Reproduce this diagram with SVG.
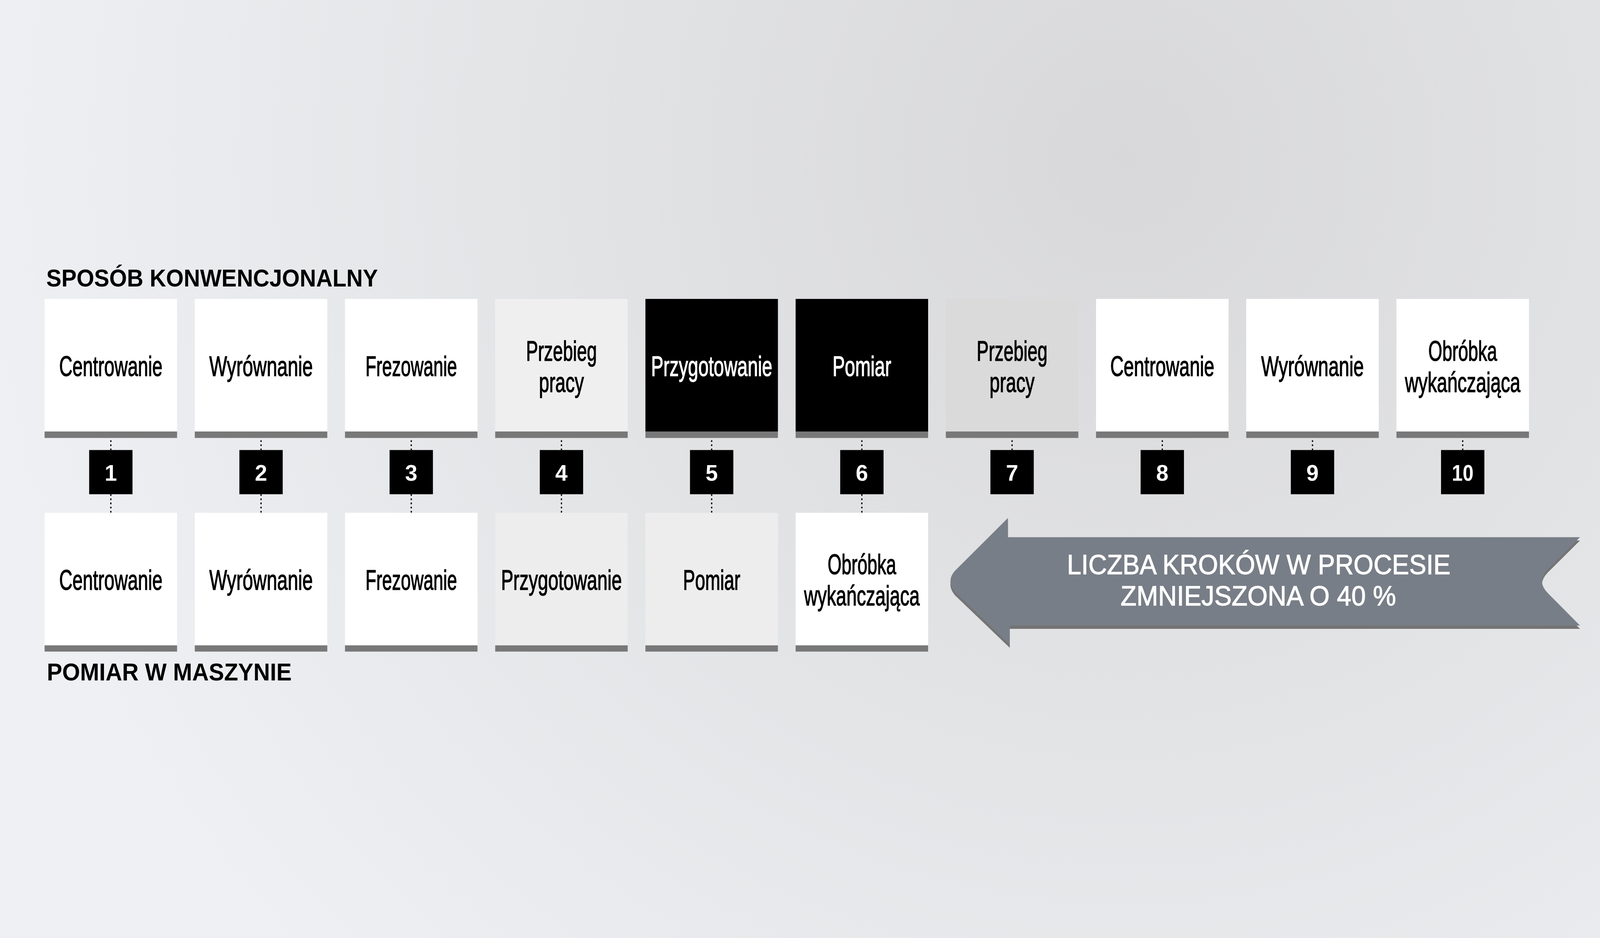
<svg xmlns="http://www.w3.org/2000/svg" width="7680" height="2400" viewBox="0 0 7680 2400" style="width:100vw;height:100vh;display:block">
<defs>
<radialGradient id="bg" cx="5400" cy="-300" r="5600" gradientUnits="userSpaceOnUse">
<stop offset="0" stop-color="#d8d8da"/>
<stop offset="0.55" stop-color="#e4e5e7"/>
<stop offset="1" stop-color="#eff0f3"/>
</radialGradient>
<style>
.lbl{font-family:"Liberation Sans","Arial",sans-serif;font-size:134px;fill:#000;stroke:#000;stroke-width:3;text-anchor:middle}
.lblw{font-family:"Liberation Sans","Arial",sans-serif;font-size:134px;fill:#fff;stroke:#fff;stroke-width:3;text-anchor:middle}
.num{font-family:"Liberation Sans","Arial",sans-serif;font-size:106px;font-weight:bold;fill:#fff;text-anchor:middle}
.title{font-family:"Liberation Sans","Arial",sans-serif;font-size:119px;font-weight:bold;fill:#000}
.arrtxt{font-family:"Liberation Sans","Arial",sans-serif;font-size:133px;fill:#fff;stroke:#fff;stroke-width:2.5;text-anchor:middle}
.bar{fill:#787878}
.nb{fill:#000}
.dot{stroke:#000;stroke-width:6;stroke-dasharray:8 12;fill:none}
</style>
</defs>
<rect x="-4000" y="-4000" width="15680" height="10400" fill="url(#bg)"/>

<text class="title" x="222" y="324" textLength="1592" lengthAdjust="spacingAndGlyphs">SPOSÓB KONWENCJONALNY</text>
<text class="title" x="225" y="2215" textLength="1175" lengthAdjust="spacingAndGlyphs">POMIAR W MASZYNIE</text>

<g id="connectors">
<path class="dot" d="M532 1022V1109M532 1321V1410M1253 1022V1109M1253 1321V1410M1974 1022V1109M1974 1321V1410M2695 1022V1109M2695 1321V1410M3416 1022V1109M3416 1321V1410M4137 1022V1109M4137 1321V1410M4858 1022V1109M5579 1022V1109M6300 1022V1109M7021 1022V1109"/>
</g>

<g id="top-1"><rect x="214" y="384" width="636" height="636" fill="#fff"/><rect class="bar" x="214" y="1020" width="636" height="31"/><text class="lbl" x="532" y="754" textLength="496" lengthAdjust="spacingAndGlyphs">Centrowanie</text></g>
<g id="top-2"><rect x="935" y="384" width="636" height="636" fill="#fff"/><rect class="bar" x="935" y="1020" width="636" height="31"/><text class="lbl" x="1253" y="754" textLength="497" lengthAdjust="spacingAndGlyphs">Wyrównanie</text></g>
<g id="top-3"><rect x="1656" y="384" width="636" height="636" fill="#fff"/><rect class="bar" x="1656" y="1020" width="636" height="31"/><text class="lbl" x="1974" y="754" textLength="440" lengthAdjust="spacingAndGlyphs">Frezowanie</text></g>
<g id="top-4"><rect x="2377" y="384" width="636" height="636" fill="#efefef"/><rect class="bar" x="2377" y="1020" width="636" height="31"/><text class="lbl" x="2695" y="680" textLength="340" lengthAdjust="spacingAndGlyphs">Przebieg</text><text class="lbl" x="2695" y="831" textLength="216" lengthAdjust="spacingAndGlyphs">pracy</text></g>
<g id="top-5"><rect x="3098" y="384" width="636" height="636" fill="#000"/><rect class="bar" x="3098" y="1020" width="636" height="31"/><text class="lblw" x="3416" y="754" textLength="582" lengthAdjust="spacingAndGlyphs">Przygotowanie</text></g>
<g id="top-6"><rect x="3819" y="384" width="636" height="636" fill="#000"/><rect class="bar" x="3819" y="1020" width="636" height="31"/><text class="lblw" x="4137" y="754" textLength="282" lengthAdjust="spacingAndGlyphs">Pomiar</text></g>
<g id="top-7"><rect x="4540" y="384" width="636" height="636" fill="#dadada"/><rect class="bar" x="4540" y="1020" width="636" height="31"/><text class="lbl" x="4858" y="680" textLength="340" lengthAdjust="spacingAndGlyphs">Przebieg</text><text class="lbl" x="4858" y="831" textLength="216" lengthAdjust="spacingAndGlyphs">pracy</text></g>
<g id="top-8"><rect x="5261" y="384" width="636" height="636" fill="#fff"/><rect class="bar" x="5261" y="1020" width="636" height="31"/><text class="lbl" x="5579" y="754" textLength="500" lengthAdjust="spacingAndGlyphs">Centrowanie</text></g>
<g id="top-9"><rect x="5982" y="384" width="636" height="636" fill="#fff"/><rect class="bar" x="5982" y="1020" width="636" height="31"/><text class="lbl" x="6300" y="754" textLength="493" lengthAdjust="spacingAndGlyphs">Wyrównanie</text></g>
<g id="top-10"><rect x="6703" y="384" width="636" height="636" fill="#fff"/><rect class="bar" x="6703" y="1020" width="636" height="31"/><text class="lbl" x="7021" y="680" textLength="330" lengthAdjust="spacingAndGlyphs">Obróbka</text><text class="lbl" x="7021" y="831" textLength="554" lengthAdjust="spacingAndGlyphs">wykańczająca</text></g>

<g id="num-1"><rect class="nb" x="428" y="1109" width="208" height="212"/><text class="num" x="532" y="1256">1</text></g>
<g id="num-2"><rect class="nb" x="1149" y="1109" width="208" height="212"/><text class="num" x="1253" y="1256">2</text></g>
<g id="num-3"><rect class="nb" x="1870" y="1109" width="208" height="212"/><text class="num" x="1974" y="1256">3</text></g>
<g id="num-4"><rect class="nb" x="2591" y="1109" width="208" height="212"/><text class="num" x="2695" y="1256">4</text></g>
<g id="num-5"><rect class="nb" x="3312" y="1109" width="208" height="212"/><text class="num" x="3416" y="1256">5</text></g>
<g id="num-6"><rect class="nb" x="4033" y="1109" width="208" height="212"/><text class="num" x="4137" y="1256">6</text></g>
<g id="num-7"><rect class="nb" x="4754" y="1109" width="208" height="212"/><text class="num" x="4858" y="1256">7</text></g>
<g id="num-8"><rect class="nb" x="5475" y="1109" width="208" height="212"/><text class="num" x="5579" y="1256">8</text></g>
<g id="num-9"><rect class="nb" x="6196" y="1109" width="208" height="212"/><text class="num" x="6300" y="1256">9</text></g>
<g id="num-10"><rect class="nb" x="6917" y="1109" width="208" height="212"/><text class="num" x="7021" y="1256" textLength="104" lengthAdjust="spacingAndGlyphs">10</text></g>

<g id="bot-1"><rect x="214" y="1410" width="636" height="636" fill="#fff"/><rect class="bar" x="214" y="2046" width="636" height="30"/><text class="lbl" x="532" y="1780" textLength="496" lengthAdjust="spacingAndGlyphs">Centrowanie</text></g>
<g id="bot-2"><rect x="935" y="1410" width="636" height="636" fill="#fff"/><rect class="bar" x="935" y="2046" width="636" height="30"/><text class="lbl" x="1253" y="1780" textLength="497" lengthAdjust="spacingAndGlyphs">Wyrównanie</text></g>
<g id="bot-3"><rect x="1656" y="1410" width="636" height="636" fill="#fff"/><rect class="bar" x="1656" y="2046" width="636" height="30"/><text class="lbl" x="1974" y="1780" textLength="440" lengthAdjust="spacingAndGlyphs">Frezowanie</text></g>
<g id="bot-4"><rect x="2377" y="1410" width="636" height="636" fill="#ededed"/><rect class="bar" x="2377" y="2046" width="636" height="30"/><text class="lbl" x="2695" y="1780" textLength="580" lengthAdjust="spacingAndGlyphs">Przygotowanie</text></g>
<g id="bot-5"><rect x="3098" y="1410" width="636" height="636" fill="#ededed"/><rect class="bar" x="3098" y="2046" width="636" height="30"/><text class="lbl" x="3416" y="1780" textLength="275" lengthAdjust="spacingAndGlyphs">Pomiar</text></g>
<g id="bot-6"><rect x="3819" y="1410" width="636" height="636" fill="#fff"/><rect class="bar" x="3819" y="2046" width="636" height="30"/><text class="lbl" x="4137" y="1705" textLength="329" lengthAdjust="spacingAndGlyphs">Obróbka</text><text class="lbl" x="4137" y="1855" textLength="555" lengthAdjust="spacingAndGlyphs">wykańczająca</text></g>

<g id="arrow">
<path transform="translate(0,16)" fill="#747474" d="M4838 1435L4838 1527L7584 1527L7430 1680Q7373 1738 7430 1796L7584 1951L4847 1951L4847 2042L4584 1790Q4540 1738 4584 1688Z"/>
<path fill="#787e87" d="M4838 1435L4838 1527L7584 1527L7430 1680Q7373 1738 7430 1796L7584 1951L4847 1951L4847 2042L4584 1790Q4540 1738 4584 1688Z"/>
<text class="arrtxt" x="6042" y="1705" textLength="1841" lengthAdjust="spacingAndGlyphs">LICZBA KROKÓW W PROCESIE</text>
<text class="arrtxt" x="6040" y="1855" textLength="1322" lengthAdjust="spacingAndGlyphs">ZMNIEJSZONA O 40 %</text>
</g>
</svg>
